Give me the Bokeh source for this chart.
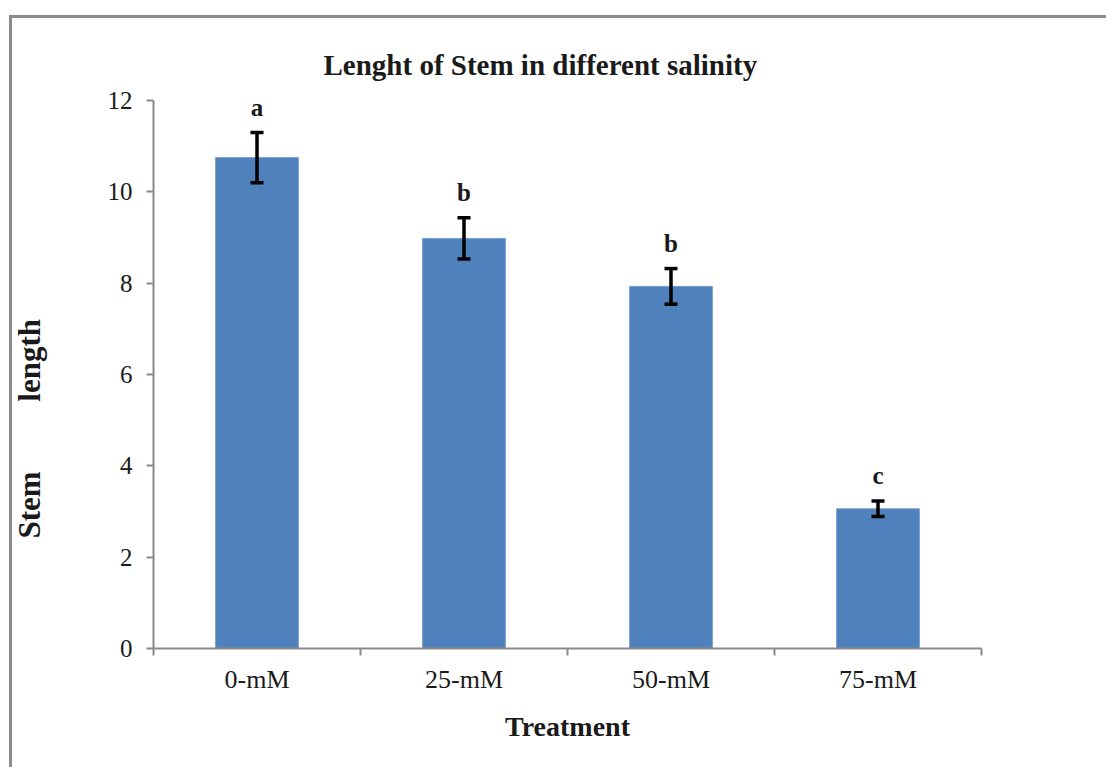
from bokeh.plotting import figure
from bokeh.models import (ColumnDataSource, Range1d, FixedTicker, Whisker, TeeHead)
from bokeh.core.properties import value
from bokeh.embed import file_html
from bokeh.resources import INLINE

# ---- data ----
categories = ["0-mM", "25-mM", "50-mM", "75-mM"]
stem_length = [10.75, 8.98, 7.93, 3.06]
std_error = [0.55, 0.45, 0.39, 0.17]
letters = ["a", "b", "b", "c"]
y_ticks = [0, 2, 4, 6, 8, 10, 12]

FONT = "Liberation Serif"
AXIS_COLOR = "#8a8a8a"
TEXT_COLOR = "#1a1a1a"
NB = "\u00a0"

xpos = [i + 0.5 for i in range(len(categories))]
src = ColumnDataSource(dict(
    x=xpos,
    top=stem_length,
    upper=[m + e for m, e in zip(stem_length, std_error)],
    lower=[m - e for m, e in zip(stem_length, std_error)],
    letter=letters,
))

p = figure(width=1106, height=767, output_backend="svg", toolbar_location=None,
           x_range=Range1d(0, len(categories)), y_range=Range1d(0, 12),
           min_border_left=153, min_border_right=125,
           min_border_top=100, min_border_bottom=119,
           title="Lenght of Stem in different salinity")
p.outline_line_color = None
p.xgrid.visible = False
p.ygrid.visible = False
p.background_fill_color = "white"
p.border_fill_color = None
# outer chart border: only its left and top edges fall inside the window
p.styles = {
    "background": ("linear-gradient(#8c8c8c, #8c8c8c) 9px 15px / 3px 100% no-repeat, "
                   "linear-gradient(#8c8c8c, #8c8c8c) 9px 15px / 100% 3px no-repeat, white"),
}

p.title.text_font = FONT
p.title.text_font_style = "bold"
p.title.text_font_size = "29px"
p.title.text_color = TEXT_COLOR
p.title.align = "left"
p.title.offset = 170
p.title.standoff = 39

p.vbar(x="x", top="top", width=0.4, source=src,
       fill_color="#4F81BD", line_color="#7BA0CD", line_width=1)

w = Whisker(base="x", upper="upper", lower="lower", source=src, level="overlay",
            line_color="black", line_width=3.5,
            upper_head=TeeHead(size=13, line_color="black", line_width=3.5),
            lower_head=TeeHead(size=13, line_color="black", line_width=3.5))
p.add_layout(w)

p.text(x="x", y="upper", text="letter", source=src, y_offset=-25, level="overlay",
       text_font=value(FONT), text_font_style="bold", text_font_size="25px",
       text_align="center", text_baseline="alphabetic", text_color=TEXT_COLOR)

# x axis: labels at category centres, tick marks at boundaries
xa = p.xaxis[0]
xa.ticker = FixedTicker(ticks=xpos, minor_ticks=list(range(len(categories) + 1)))
xa.major_label_overrides = {x: c for x, c in zip(xpos, categories)}
xa.major_tick_out = 0
xa.major_tick_in = 0
xa.minor_tick_out = 7
xa.minor_tick_in = 0
xa.minor_tick_line_color = AXIS_COLOR
xa.minor_tick_line_width = 2
xa.axis_line_color = AXIS_COLOR
xa.axis_line_width = 2
xa.major_label_text_font = FONT
xa.major_label_text_font_size = "26px"
xa.major_label_text_color = TEXT_COLOR
xa.major_label_standoff = 9
xa.axis_label = "Treatment"
xa.axis_label_text_font = FONT
xa.axis_label_text_font_style = "bold"
xa.axis_label_text_font_size = "28px"
xa.axis_label_text_color = TEXT_COLOR
xa.axis_label_standoff = 14

ya = p.yaxis[0]
ya.ticker = FixedTicker(ticks=y_ticks)
ya.major_tick_out = 7
ya.major_tick_in = 0
ya.minor_tick_out = 0
ya.minor_tick_in = 0
ya.major_tick_line_color = AXIS_COLOR
ya.major_tick_line_width = 2
ya.axis_line_color = AXIS_COLOR
ya.axis_line_width = 2
ya.major_label_text_font = FONT
ya.major_label_text_font_size = "25px"
ya.major_label_text_color = TEXT_COLOR
ya.major_label_standoff = 14
ya.axis_label = "Stem" + NB * 9 + "length" + NB * 14
ya.axis_label_text_font = FONT
ya.axis_label_text_font_style = "bold"
ya.axis_label_text_font_size = "31px"
ya.axis_label_text_color = TEXT_COLOR
ya.axis_label_standoff = 58

open("out.html", "w").write(file_html(p, INLINE))
